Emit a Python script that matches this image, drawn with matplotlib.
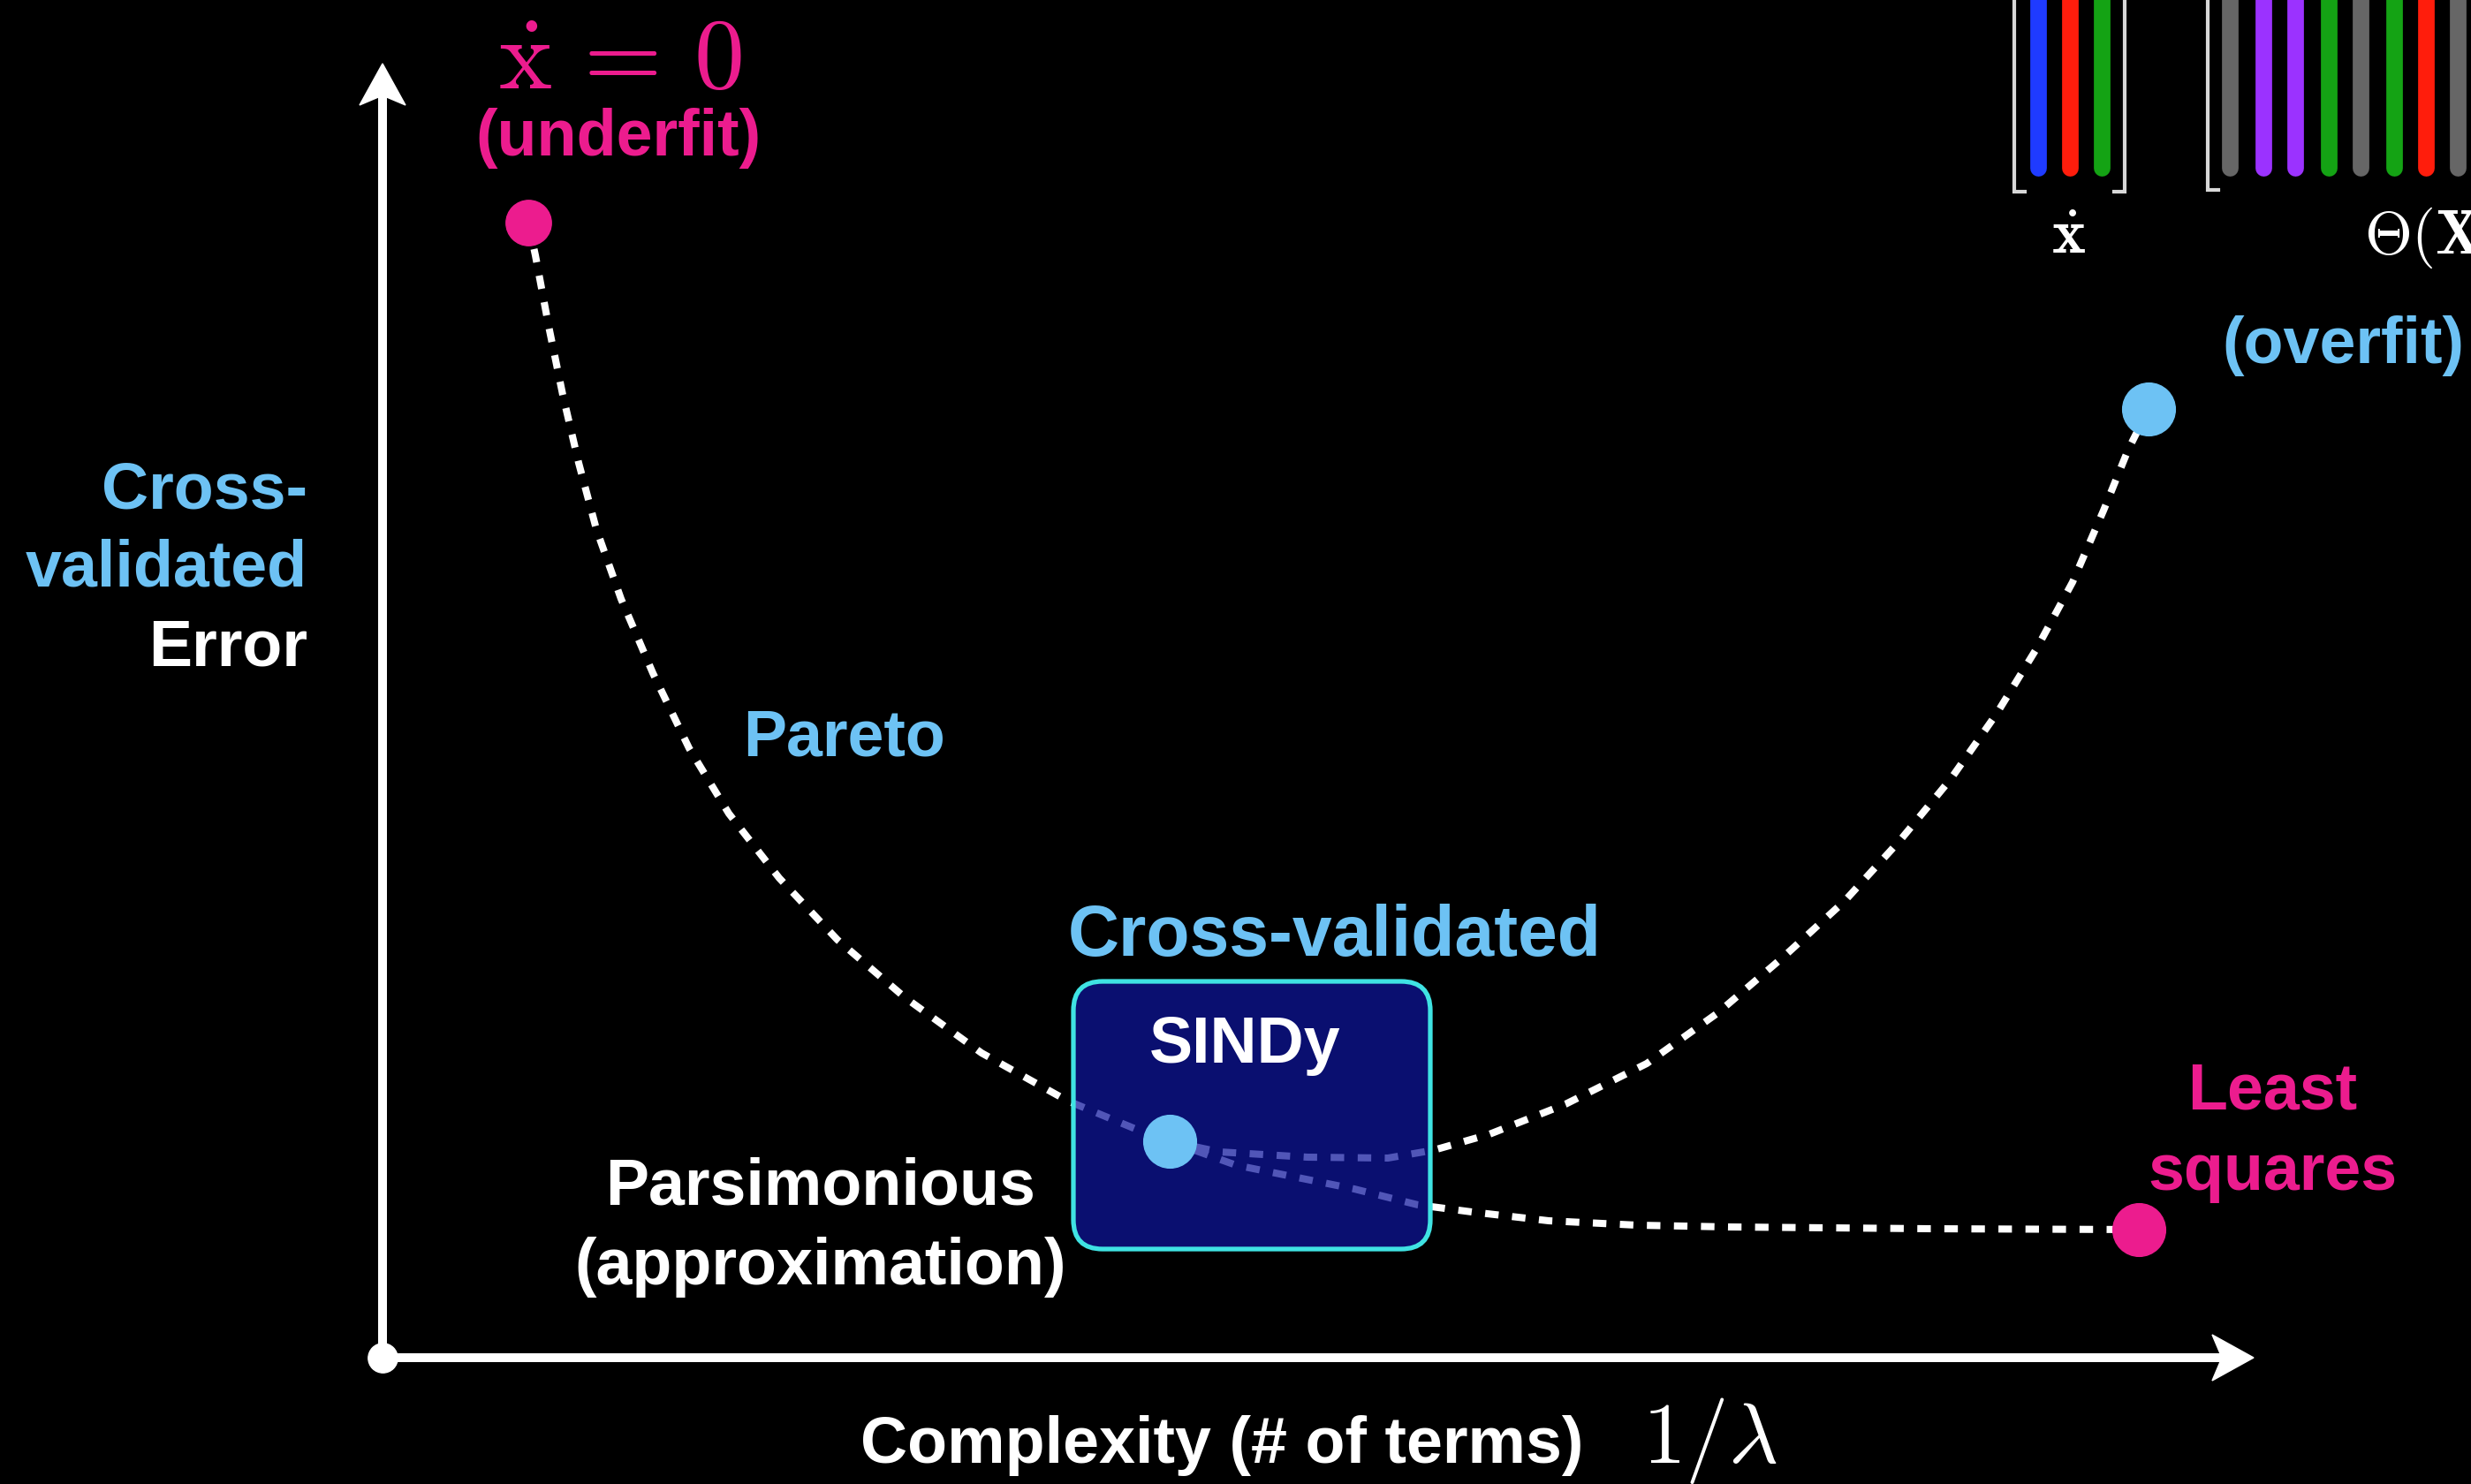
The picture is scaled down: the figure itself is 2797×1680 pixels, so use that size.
import matplotlib
matplotlib.use("Agg")
import matplotlib.pyplot as plt
from matplotlib.patches import FancyBboxPatch, Polygon

# ---------------- data (complexity, cross-validated error) ----------------
# Pareto front: from the underfit point down to the SINDy point
pareto_x = [1.65, 1.73, 1.88, 2.04, 2.22, 2.42, 2.70, 3.06, 3.47, 3.92, 4.49,
            5.15, 5.91, 6.78, 7.75, 8.57, 8.91]
pareto_y = [12.85, 12.48, 11.68, 10.90, 10.13, 9.38, 8.59, 7.75, 6.90, 6.16,
            5.43, 4.73, 4.08, 3.45, 2.91, 2.57, 2.45]
# continuation of the Pareto front towards least squares
lsq_x = [8.91, 9.66, 11.00, 11.72, 12.33, 13.20, 14.20, 15.24, 17.50, 19.90]
lsq_y = [2.45, 2.18, 1.91, 1.73, 1.65, 1.55, 1.50, 1.48, 1.46, 1.45]
# cross-validated error curve: from SINDy up to the overfit point
cv_x = [8.91, 9.47, 10.47, 11.38, 11.90, 12.53, 13.39, 14.31, 15.11, 15.86,
        16.55, 17.18, 17.75, 18.27, 18.73, 19.13, 19.48, 19.76, 19.99]
cv_y = [2.45, 2.33, 2.27, 2.26, 2.35, 2.53, 2.87, 3.33, 3.90, 4.54, 5.17,
        5.86, 6.55, 7.29, 8.04, 8.78, 9.59, 10.28, 10.74]

underfit_pt = (1.65, 12.85)
sindy_pt = (8.91, 2.45)
overfit_pt = (19.99, 10.74)
lsq_pt = (19.88, 1.45)

x_axis_end = 21.18
y_axis_end = 14.65

# SINDy box extents
box_x0, box_x1 = 7.82, 11.86
box_y0, box_y1 = 1.23, 4.26

# matrix icon (top right): column positions and colours
xdot_cols_x = [18.74, 19.10, 19.46]
xdot_cols_c = ["#1f3bff", "#ff1d0c", "#14a314"]
theta_cols_x = [20.91, 21.29, 21.65, 22.03, 22.39, 22.77, 23.13, 23.49]
theta_cols_c = ["#666666", "#9b32ff", "#9b32ff", "#14a314", "#666666",
                "#14a314", "#ff1d0c", "#666666"]
cols_bottom = 13.47

PINK = "#ec1c8e"
BLUE = "#6dc2f4"
WHITE = "#ffffff"

plt.rcParams["mathtext.fontset"] = "cm"
FONT = "Liberation Sans"

fig = plt.figure(figsize=(27.97, 16.81), dpi=100, facecolor="black")
ax = fig.add_axes([0, 0, 1, 1])
ax.set_facecolor("black")
ax.set_xlim(-4.33, 23.64)
ax.set_ylim(-1.43, 15.38)
ax.axis("off")

# ---------------- axes with arrows ----------------
ax.plot([0, x_axis_end - 0.33], [0, 0], color=WHITE, lw=7.2, solid_capstyle="butt", zorder=3)
ax.plot([0, 0], [0, y_axis_end - 0.36], color=WHITE, lw=7.2, solid_capstyle="butt", zorder=3)
hl, hw, notch = 0.47, 0.26, 0.36
ax.add_patch(Polygon([(x_axis_end, 0), (x_axis_end - hl, hw), (x_axis_end - notch, 0),
                      (x_axis_end - hl, -hw)], closed=True, color=WHITE, zorder=3))
ax.add_patch(Polygon([(0, y_axis_end), (hw, y_axis_end - hl), (0, y_axis_end - notch),
                      (-hw, y_axis_end - hl)], closed=True, color=WHITE, zorder=3))
ax.plot([0], [0], "o", color=WHITE, markersize=24, zorder=4)

# ---------------- curves ----------------
dash = dict(color=WHITE, lw=5.8, dashes=(1.9, 1.9), dash_capstyle="butt",
            solid_joinstyle="round", zorder=2)
ax.plot(pareto_x, pareto_y, **dash)
ax.plot(lsq_x, lsq_y, **dash)
ax.plot(cv_x, cv_y, **dash)

# ---------------- SINDy box ----------------
box = FancyBboxPatch((box_x0, box_y0), box_x1 - box_x0, box_y1 - box_y0,
                     boxstyle="round,pad=0,rounding_size=0.33",
                     facecolor=(14 / 255, 21 / 255, 157 / 255, 0.72),
                     edgecolor="#3fe3e3", lw=3.8, zorder=5)
ax.add_patch(box)

# ---------------- points ----------------
ax.plot(*underfit_pt, "o", color=PINK, markersize=37, zorder=6)
ax.plot(*lsq_pt, "o", color=PINK, markersize=43, zorder=6)
ax.plot(*sindy_pt, "o", color=BLUE, markersize=43, zorder=6)
ax.plot(*overfit_pt, "o", color=BLUE, markersize=43, zorder=6)

# ---------------- labels ----------------
tk = dict(fontfamily=FONT, fontweight="bold", fontsize=53, va="baseline", zorder=7)
ax.text(2.69, 14.38, r"$\dot{\mathrm{x}}\,=\,0$", color=PINK, fontsize=82,
        ha="center", va="baseline", zorder=7)
ax.text(2.67, 13.62, "(underfit)", color=PINK, ha="center", **tk)

ax.text(-0.85, 9.63, "Cross-", color=BLUE, ha="right", **tk)
ax.text(-0.85, 8.74, "validated", color=BLUE, ha="right", **tk)
ax.text(-0.85, 7.85, "Error", color=WHITE, ha="right", **tk)

ax.text(5.23, 6.83, "Pareto", color=BLUE, ha="center", **tk)
ax.text(10.78, 4.56, "Cross-validated", color=BLUE, ha="center",
        fontfamily=FONT, fontweight="bold", fontsize=58, va="baseline", zorder=7)
ax.text(9.76, 3.35, "SINDy", color=WHITE, ha="center", **tk)
ax.text(4.96, 1.75, "Parsimonious", color=WHITE, ha="center", **tk)
ax.text(4.96, 0.84, "(approximation)", color=WHITE, ha="center", **tk)
ax.text(21.39, 2.82, "Least", color=PINK, ha="center", **tk)
ax.text(21.39, 1.91, "squares", color=PINK, ha="center", **tk)
ax.text(20.82, 11.27, "(overfit)", color=BLUE, ha="left", **tk)

ax.text(9.50, -1.18, "Complexity (# of terms)", color=WHITE, ha="center", **tk)
ax.text(15.02, -1.18, r"$1/\lambda$", color=WHITE, fontsize=70, ha="center",
        va="baseline", zorder=7)

# ---------------- matrix icon ----------------
for xc, c in zip(xdot_cols_x, xdot_cols_c):
    ax.plot([xc, xc], [16.5, cols_bottom], color=c, lw=13.5, solid_capstyle="round", zorder=3)
for xc, c in zip(theta_cols_x, theta_cols_c):
    ax.plot([xc, xc], [16.5, cols_bottom], color=c, lw=13.5, solid_capstyle="round", zorder=3)

br = dict(color="#d8d8d8", lw=3.0, zorder=3, solid_joinstyle="miter")
bx_l, bx_r, bb = xdot_cols_x[0] - 0.27, xdot_cols_x[-1] + 0.26, 13.20
ax.plot([bx_l, bx_l, bx_l + 0.12], [16.5, bb, bb], **br)
ax.plot([bx_r, bx_r, bx_r - 0.12], [16.5, bb, bb], **br)
tx_l = theta_cols_x[0] - 0.25
ax.plot([tx_l, tx_l, tx_l + 0.12], [16.5, bb + 0.02, bb + 0.02], **br)

ax.text(19.08, 12.51, r"$\dot{\mathbf{x}}$", color=WHITE, fontsize=52,
        ha="center", va="baseline", zorder=7)
ax.text(22.43, 12.51, r"$\Theta(\mathbf{X})$", color=WHITE, fontsize=50,
        ha="left", va="baseline", zorder=7)

fig.savefig("out.png", dpi=100, facecolor="black")
